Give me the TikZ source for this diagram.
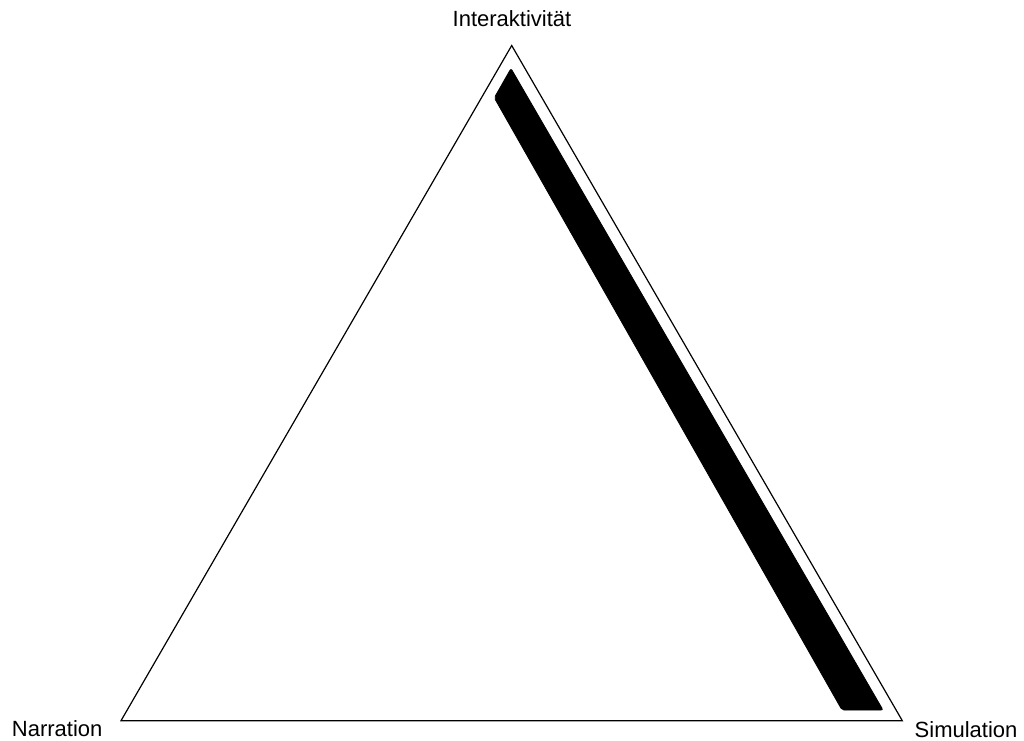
\documentclass[tikz,border=0pt]{standalone}
\usepackage{fontspec}
\setmainfont{Liberation Sans}
\begin{document}
\begin{tikzpicture}[x=1pt,y=-1pt,
  lbl/.style={inner sep=0pt,font=\fontsize{22}{26}\selectfont},
  tri/.style={draw=black,line width=1.2pt,line join=miter},
  band/.style={fill=black,draw=black,line width=0.8pt,rounded corners=2pt}]
\useasboundingbox (0,0) rectangle (1024,740);
\coordinate (I) at (511.7,45.5);
\coordinate (N) at (121,720.7);
\coordinate (S) at (902.3,720.7);
\draw[tri] (I) -- (S) -- (N) -- cycle;
\coordinate (b1) at (511,68.5);
\coordinate (b2) at (883,710);
\coordinate (b3) at (842,710);
\coordinate (b4) at (494.3,97.8);
\draw[band] (b1) -- (b2) -- (b3) -- (b4) -- cycle;
\node[lbl,anchor=base] (tI) at (512,26.7) {Interaktivität};
\node[lbl,anchor=base west] (tN) at (11.7,736) {Narration};
\node[lbl,anchor=base west] (tS) at (914.5,737) {Simulation};
\end{tikzpicture}
\end{document}
